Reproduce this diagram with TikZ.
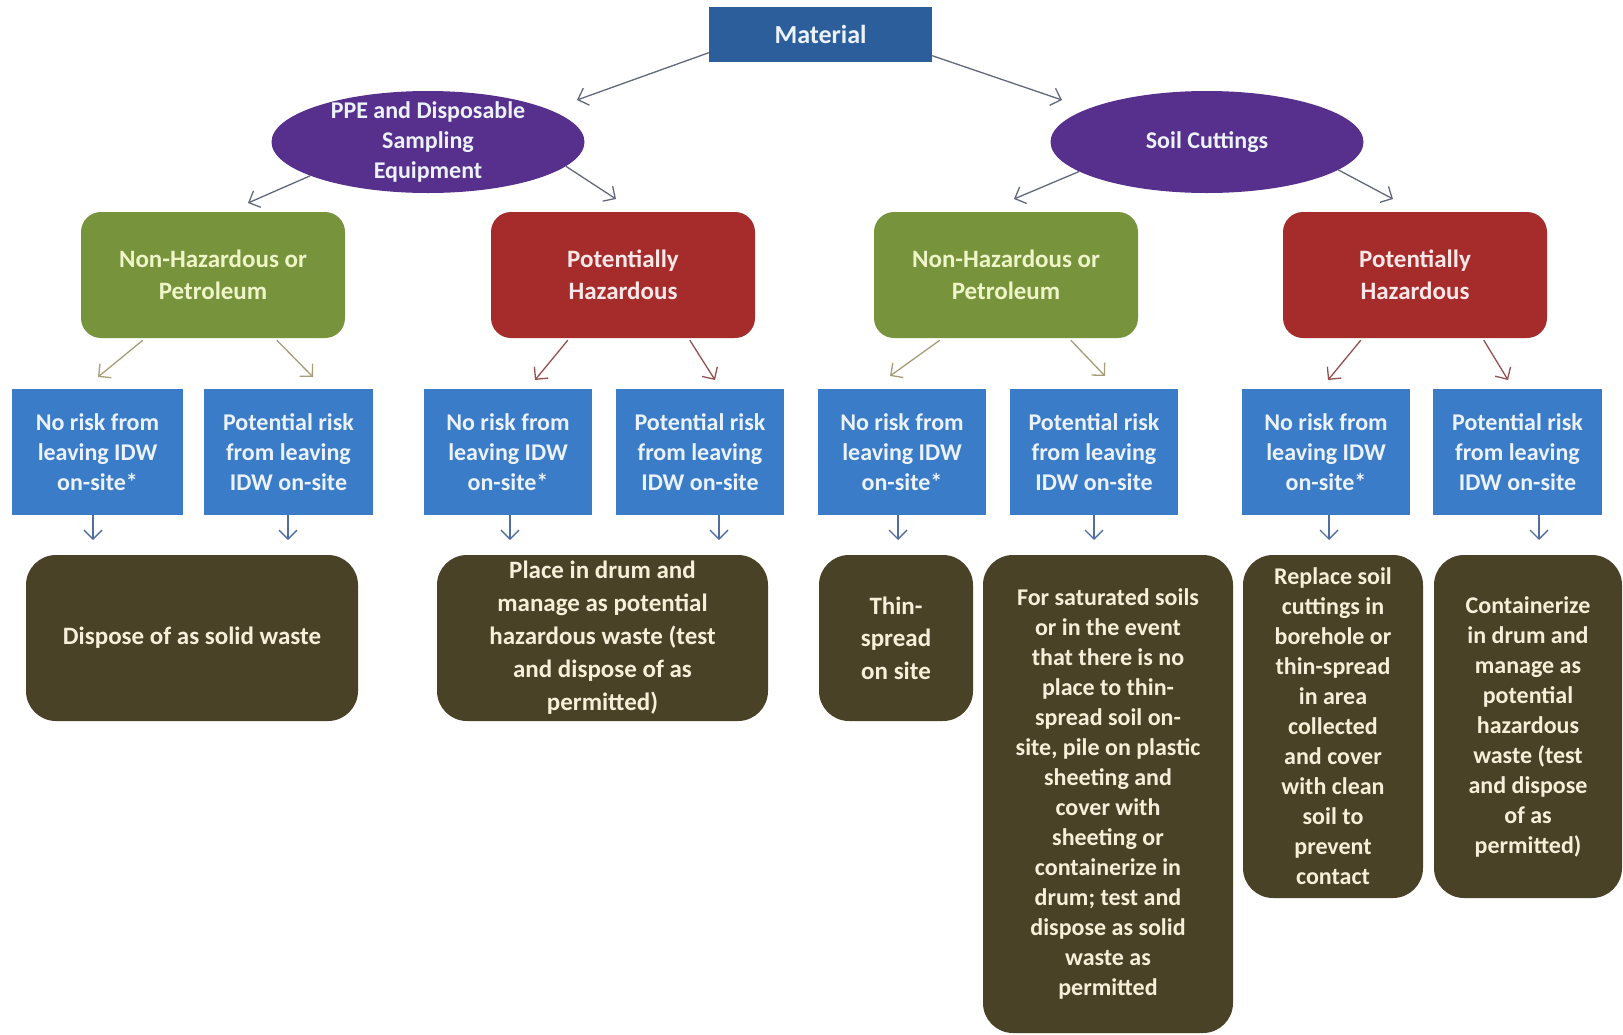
\documentclass[tikz,border=0pt]{standalone}
\usepackage{fontspec}
\setmainfont{Carlito}
\usetikzlibrary{arrows.meta,calc,shapes.geometric}
\definecolor{matblue}{RGB}{44,94,156}
\definecolor{ellpurple}{RGB}{86,48,140}
\definecolor{grn}{RGB}{119,147,60}
\definecolor{rd}{RGB}{166,44,44}
\definecolor{blu}{RGB}{58,124,200}
\definecolor{drk}{RGB}{74,66,38}
\definecolor{grntext}{RGB}{238,245,200}
\definecolor{lighttext}{RGB}{236,242,250}
\definecolor{rdtext}{RGB}{250,232,232}
\definecolor{drktext}{RGB}{246,240,218}
\definecolor{arrgray}{RGB}{96,104,122}
\definecolor{arrtan}{RGB}{168,156,120}
\definecolor{arrred}{RGB}{150,80,80}
\definecolor{arrblue}{RGB}{80,110,160}
\tikzset{
  base/.style={align=center, font=\bfseries\fontsize{24}{30}\selectfont, inner sep=0pt},
  matbox/.style={base, fill=matblue, text=lighttext, minimum width=223, minimum height=55, font=\bfseries\fontsize{26}{30}\selectfont},
  ellnode/.style={base, ellipse, fill=ellpurple, text=lighttext, minimum width=313, minimum height=102, inner sep=-12pt},
  grnbox/.style={base, fill=grn, text=grntext, rounded corners=20, minimum width=264, minimum height=126, font=\bfseries\fontsize{25}{32}\selectfont},
  rdbox/.style={base, fill=rd, text=rdtext, rounded corners=20, minimum width=264, minimum height=126, font=\bfseries\fontsize{25}{32}\selectfont},
  blubox/.style={base, fill=blu, text=lighttext, minimum width=168, minimum height=126},
  drkbox/.style={base, fill=drk, text=drktext, rounded corners=30},
  arr/.style={-{Straight Barb[length=9pt,width=18pt]}, line width=1.3pt},
}
\begin{document}
\begin{tikzpicture}[x=1pt,y=-1pt]
\useasboundingbox (0,0) rectangle (1623,1034);
% top
\node[matbox] (mat) at (820.5,34) {Material};
\node[ellnode] (ppe) at (428,142) {PPE and Disposable\\Sampling\\Equipment};
\node[ellnode] (soil) at (1207,142) {Soil Cuttings};
% level 2
\node[grnbox] (g1) at (213,275) {Non-Hazardous or\\Petroleum};
\node[rdbox] (r1) at (623,275) {Potentially\\Hazardous};
\node[grnbox] (g2) at (1006,275) {Non-Hazardous or\\Petroleum};
\node[rdbox] (r2) at (1415,275) {Potentially\\Hazardous};
% level 3
\node[blubox, minimum width=171] (b1) at (97.5,452) {No risk from\\leaving IDW\\on-site*};
\node[blubox, minimum width=169] (b2) at (288.5,452) {Potential risk\\from  leaving\\IDW on-site};
\node[blubox] (b3) at (508,452) {No risk from\\leaving IDW\\on-site*};
\node[blubox] (b4) at (700,452) {Potential risk\\from  leaving\\IDW on-site};
\node[blubox] (b5) at (902,452) {No risk from\\leaving IDW\\on-site*};
\node[blubox] (b6) at (1094,452) {Potential risk\\from  leaving\\IDW on-site};
\node[blubox] (b7) at (1326,452) {No risk from\\leaving IDW\\on-site*};
\node[blubox, minimum width=169] (b8) at (1517.5,452) {Potential risk\\from  leaving\\IDW on-site};
% level 4
\node[drkbox, minimum width=332, minimum height=166, font=\bfseries\fontsize{25}{33}\selectfont] (d1) at (192,638) {Dispose of as solid waste};
\node[drkbox, minimum width=331, minimum height=166, font=\bfseries\fontsize{25}{33}\selectfont] (d2) at (602.5,638) {Place in drum and\\manage as potential\\hazardous waste (test\\and dispose of as\\permitted)};
\node[drkbox, minimum width=154, minimum height=166, font=\bfseries\fontsize{25}{32.5}\selectfont] (d3) at (896,638) {Thin-\\spread\\on site};
\node[drkbox, minimum width=250, minimum height=478] (d4) at (1108,794) {For saturated soils\\or in the event\\that there is no\\place to thin-\\spread soil on-\\site, pile on plastic\\sheeting and\\cover with\\sheeting or\\containerize in\\drum; test and\\dispose as solid\\waste as\\permitted};
\node[drkbox, minimum width=180, minimum height=343] (d5) at (1333,726.5) {Replace soil\\cuttings in\\borehole or\\thin-spread\\in area\\collected\\and cover\\with clean\\soil to\\prevent\\contact};
\node[drkbox, minimum width=188, minimum height=343] (d6) at (1528,726.5) {Containerize\\in drum and\\manage as\\potential\\hazardous\\waste (test\\and dispose\\of as\\permitted)};
% arrow tips
\coordinate (tppe) at (577,100);
\coordinate (tsoil) at (1062,100);
\coordinate (tg1) at (248,203);
\coordinate (tr1) at (616,199);
\coordinate (tg2) at (1014,199);
\coordinate (tr2) at (1393,199);
\coordinate (tb1) at (98,377);
\coordinate (tb2) at (313,377);
\coordinate (tb3) at (535,380);
\coordinate (tb4) at (715,380);
\coordinate (tb5) at (890,376);
\coordinate (tb6) at (1105,376);
\coordinate (tb7) at (1328,380);
\coordinate (tb8) at (1508,380);
\coordinate (td1) at (93,540);
\coordinate (td2) at (288,540);
\coordinate (td3a) at (510,540);
\coordinate (td3b) at (719,540);
\coordinate (td4a) at (898,540);
\coordinate (td4b) at (1094,540);
\coordinate (td5) at (1329,540);
\coordinate (td6) at (1539,540);
% connectors
\draw[arr, arrgray] ($(mat.south west)+(0,-9)$) -- (tppe);
\draw[arr, arrgray] ($(mat.south east)+(0,-6)$) -- (tsoil);
\draw[arr, arrgray] (ppe.196) -- (tg1);
\draw[arr, arrgray] (ppe.350) -- (tr1);
\draw[arr, arrgray] (soil.193) -- (tg2);
\draw[arr, arrgray] (soil.348) -- (tr2);
\draw[arr, arrtan] ($(g1.south west)+(62,2)$) -- (tb1);
\draw[arr, arrtan] ($(g1.south west)+(196,2)$) -- (tb2);
\draw[arr, arrred] ($(r1.south west)+(77,2)$) -- (tb3);
\draw[arr, arrred] ($(r1.south west)+(199,2)$) -- (tb4);
\draw[arr, arrtan] ($(g2.south west)+(66,2)$) -- (tb5);
\draw[arr, arrtan] ($(g2.south west)+(197,2)$) -- (tb6);
\draw[arr, arrred] ($(r2.south west)+(78,2)$) -- (tb7);
\draw[arr, arrred] ($(r2.south west)+(201,2)$) -- (tb8);
\draw[arr, arrblue] (b1.south -| td1) -- (td1);
\draw[arr, arrblue] (b2.south -| td2) -- (td2);
\draw[arr, arrblue] (b3.south -| td3a) -- (td3a);
\draw[arr, arrblue] (b4.south -| td3b) -- (td3b);
\draw[arr, arrblue] (b5.south -| td4a) -- (td4a);
\draw[arr, arrblue] (b6.south -| td4b) -- (td4b);
\draw[arr, arrblue] (b7.south -| td5) -- (td5);
\draw[arr, arrblue] (b8.south -| td6) -- (td6);
\end{tikzpicture}
\end{document}
